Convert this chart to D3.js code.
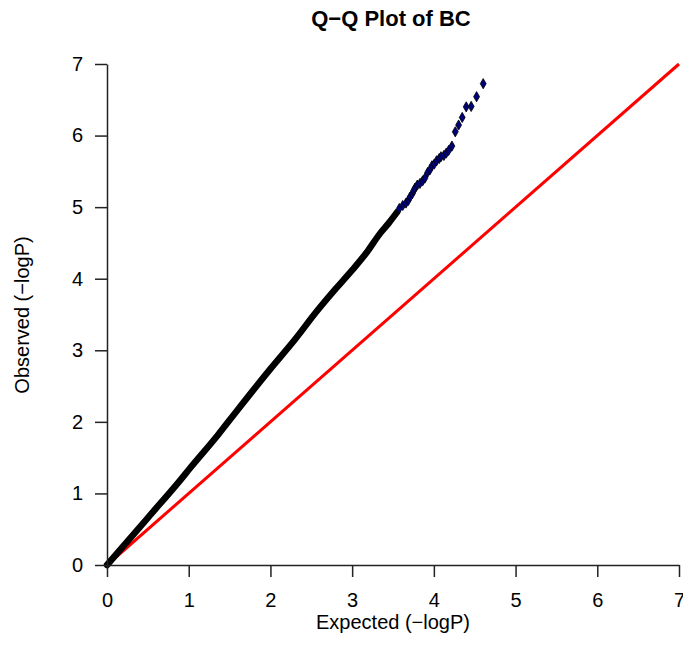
<!DOCTYPE html>
<html>
<head>
<meta charset="utf-8">
<script src="https://cdn.jsdelivr.net/npm/d3@7"></script>
<style>
  body { margin: 0; background: #fff; }
  svg { display: block; font-family: "Liberation Sans", Arial, sans-serif; }
</style>
</head>
<body>
<svg id="qq" width="683" height="663"></svg>
<script>
// Q-Q plot of BC: the dense body is drawn as one thick band, the tail as single points
const bodyExpected = [0, 0.5, 0.9, 1.0, 1.36, 1.6, 2.0, 2.3, 2.55, 2.8, 3.0, 3.18, 3.34, 3.45, 3.55];
const bodyObserved = [0, 0.66, 1.19, 1.33, 1.82, 2.17, 2.74, 3.15, 3.52, 3.86, 4.12, 4.37, 4.63, 4.78, 4.93];

const tailExpected = [3.577, 3.619, 3.659, 3.687, 3.708, 3.736, 3.753, 3.769, 3.797, 3.830,
                      3.863, 3.891, 3.924, 3.952, 3.977, 4.005, 4.034, 4.066, 4.087, 4.123,
                      4.152, 4.181, 4.221, 4.262, 4.303, 4.347, 4.396, 4.457, 4.523, 4.604];
const tailObserved = [4.981, 5.023, 5.057, 5.093, 5.141, 5.187, 5.229, 5.266, 5.308, 5.331,
                      5.368, 5.406, 5.485, 5.522, 5.578, 5.602, 5.648, 5.680, 5.704, 5.722,
                      5.756, 5.792, 5.853, 6.053, 6.147, 6.253, 6.401, 6.407, 6.543, 6.725];

const ticks = [0, 1, 2, 3, 4, 5, 6, 7];
const refLine = [[0, 0], [7, 7]];

const svg = d3.select("#qq");
const x = d3.scaleLinear().domain([0, 7]).range([107, 679]);
const y = d3.scaleLinear().domain([0, 7]).range([565, 64]);

// reference line
svg.append("line")
  .attr("x1", x(refLine[0][0])).attr("y1", y(refLine[0][1]))
  .attr("x2", x(refLine[1][0])).attr("y2", y(refLine[1][1]))
  .attr("stroke", "#ff0000")
  .attr("stroke-width", 3);

// dense body
const body = bodyExpected.map((e, i) => [e, bodyObserved[i]]);
svg.append("path")
  .datum(body)
  .attr("d", d3.line().x(d => x(d[0])).y(d => y(d[1])).curve(d3.curveMonotoneX))
  .attr("fill", "none")
  .attr("stroke", "#000")
  .attr("stroke-width", 6.5)
  .attr("stroke-linecap", "round");

// tail points
const tail = tailExpected.map((e, i) => [e, tailObserved[i]]);
svg.append("g")
  .selectAll("path")
  .data(tail)
  .join("path")
    .attr("transform", d => `translate(${x(d[0])},${y(d[1])})`)
    .attr("d", d3.symbol(d3.symbolDiamond, 30))
    .attr("fill", "#00007a")
    .attr("stroke", "#000")
    .attr("stroke-width", 0.8);

// axes
const xAxis = svg.append("g")
  .attr("transform", "translate(0,565)")
  .call(d3.axisBottom(x).tickValues(ticks).tickFormat(d3.format("d")).tickSize(12).tickSizeOuter(0).tickPadding(16));
const yAxis = svg.append("g")
  .attr("transform", "translate(107,0)")
  .call(d3.axisLeft(y).tickValues(ticks).tickFormat(d3.format("d")).tickSize(12).tickSizeOuter(0).tickPadding(12));

[xAxis, yAxis].forEach(a => {
  a.attr("font-size", 20).attr("font-family", "Liberation Sans, Arial, sans-serif");
  a.selectAll(".domain").attr("stroke", "#222").attr("stroke-width", 1.5);
  a.selectAll(".tick line").attr("stroke", "#222").attr("stroke-width", 1.5);
  a.selectAll(".tick text").attr("fill", "#000");
});

// titles
svg.append("text")
  .attr("x", 391).attr("y", 26)
  .attr("text-anchor", "middle")
  .attr("font-size", 22).attr("font-weight", "bold")
  .text("Q\u2212Q Plot of BC");

svg.append("text")
  .attr("x", 393).attr("y", 629)
  .attr("text-anchor", "middle")
  .attr("font-size", 20)
  .text("Expected (\u2212logP)");

svg.append("text")
  .attr("transform", "translate(29,315) rotate(-90)")
  .attr("text-anchor", "middle")
  .attr("font-size", 20)
  .text("Observed (\u2212logP)");
</script>
</body>
</html>
